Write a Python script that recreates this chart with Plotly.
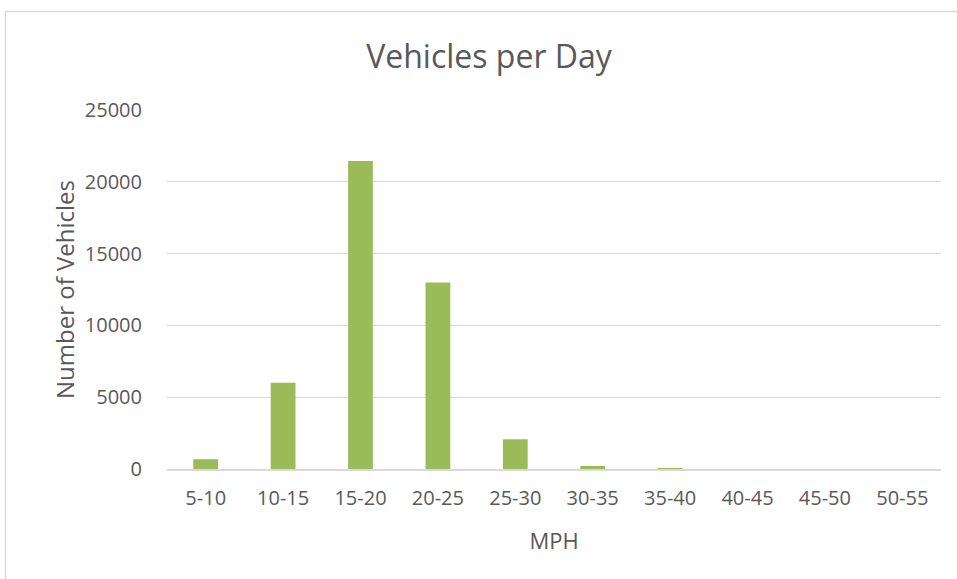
import plotly.graph_objects as go

categories = ["5-10", "10-15", "15-20", "20-25", "25-30", "30-35", "35-40", "40-45", "45-50", "50-55"]
vehicles = [680, 6000, 21450, 12980, 2070, 210, 20, 0, 0, 0]
y_ticks = [0, 5000, 10000, 15000, 20000, 25000]

W, H = 957, 579
L, R, T, B = 167, 16, 110, 110
pw, ph = W - L - R, H - T - B

def px(x):
    return (x - L) / pw

def py(y):
    return (H - B - y) / ph

font = "Open Sans"
grey = "#595959"

fig = go.Figure(go.Bar(x=categories, y=vehicles, marker_color="#9BBB59",
                       marker_line_width=0, width=0.32))

fig.update_layout(
    width=W, height=H,
    margin=dict(l=L, r=R, t=T, b=B),
    paper_bgcolor="white", plot_bgcolor="white",
    font=dict(family=font, color=grey, size=20),
    title=dict(text="Vehicles per Day", xref="paper", x=px(489), xanchor="center",
               yref="container", y=1 - 57 / H, yanchor="middle",
               font=dict(size=32, color=grey)),
    showlegend=False,
    xaxis=dict(showline=True, linecolor="#D9D9D9", linewidth=1.5, ticks="",
               ticklabelstandoff=10,
               title=dict(text="MPH", font=dict(size=22, color=grey), standoff=24),
               tickfont=dict(size=20, color=grey)),
    yaxis=dict(range=[0, 25000], tickvals=y_ticks, tickformat="d", showgrid=True,
               gridcolor="#D9D9D9", zeroline=False, ticks="", ticklabelstandoff=24,
               tickfont=dict(size=20, color=grey),
               title=dict(text="Number of Vehicles", font=dict(size=24, color=grey), standoff=3)),
    shapes=[
        dict(type="line", xref="paper", yref="paper", x0=px(5.5), x1=px(960), y0=py(11.5), y1=py(11.5),
             line=dict(color="#D9D9D9", width=1.5)),
        dict(type="line", xref="paper", yref="paper", x0=px(5.5), x1=px(5.5), y0=py(11.5), y1=py(582),
             line=dict(color="#D9D9D9", width=1.5)),
    ],
)

fig.write_html("out.html", config={"displayModeBar": False},
               post_script="document.body.style.margin='0';document.body.style.overflow='hidden';")
